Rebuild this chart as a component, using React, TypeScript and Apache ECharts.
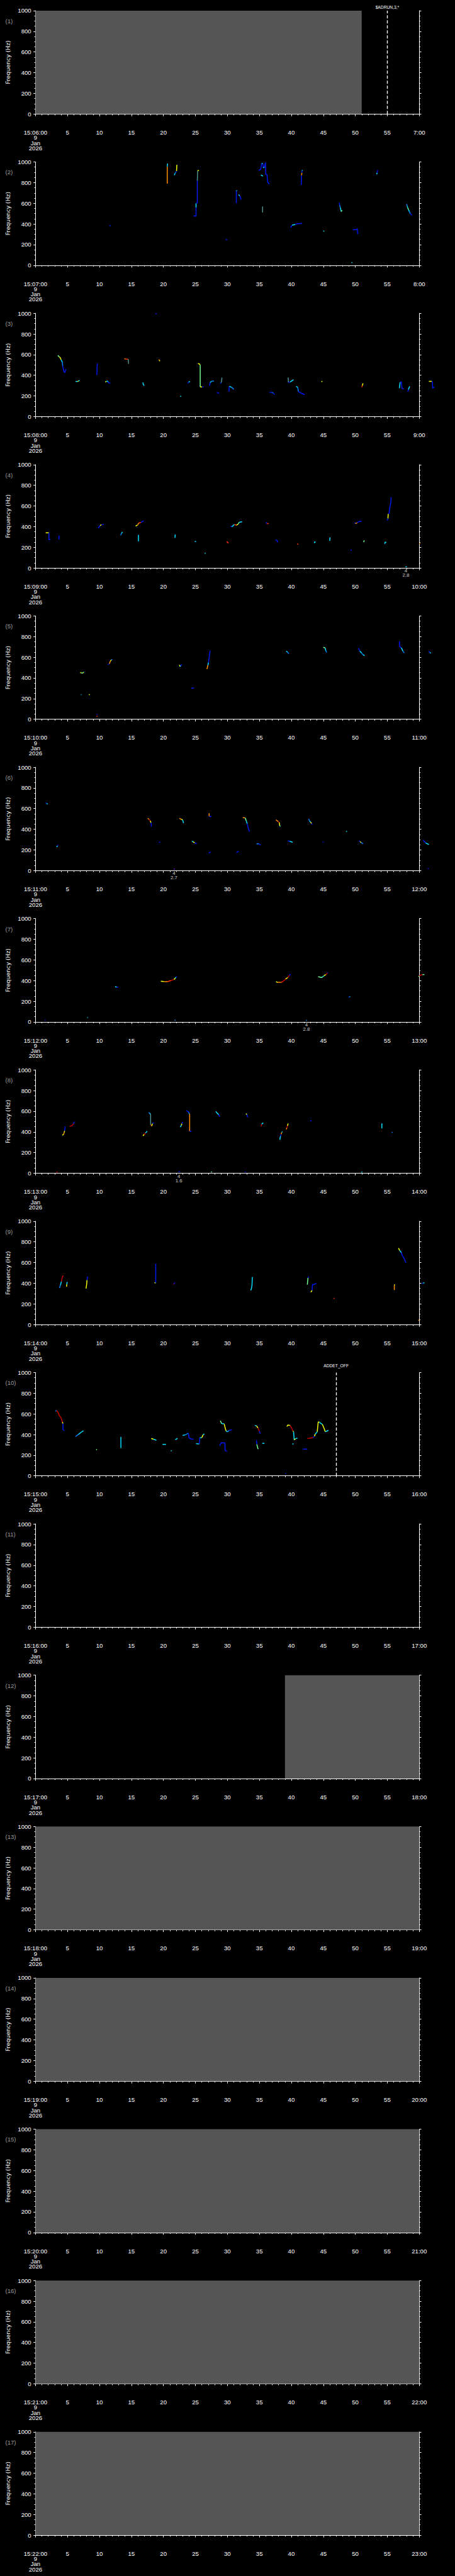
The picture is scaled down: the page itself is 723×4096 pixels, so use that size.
import React, { useEffect, useRef } from "react";
import * as echarts from "echarts";

// ---------- layout constants (reference px, scaled by S) ----------
const S = 0.705;
const PANEL_TOP0 = 24;
const PANEL_STEP = 341.3;
const PANEL_H = 233;
const PLOT_LEFT = 80;
const PLOT_RIGHT = 945;
const REF_W = 1024;

// ---------- axis definitions ----------
const X_MIN = 0;
const X_MAX = 60;
const X_INTERVAL = 5;
const Y_MIN = 0;
const Y_MAX = 1000;
const Y_INTERVAL = 200;
const PANEL_COUNT = 17;
const DATE_LINES = ["9", "Jan", "2026"];

// ---------- colour keys (jet-like intensity scale) ----------
const COLOR_KEYS: Record<string, string> = {
  B: "#0018f0",
  b: "#0080ff",
  c: "#00e0ff",
  g: "#70ff90",
  y: "#f0ff00",
  o: "#ff8c00",
  r: "#ff3000",
  R: "#c80000",
  n: "#4f8f8f",
  p: "#7000c0",
};

// Each trace: [segment colour keys, flat list of t(s), f(Hz) pairs]
type Trace = [string, number[]];

const panel1Traces: Trace[] = [];

const panel2Traces: Trace[] = [
  ["B", [11.55, 385, 11.75, 382]],
  ["oc", [20.6, 790, 20.6, 955, 20.65, 985]],
  ["cbBy", [21.7, 872, 21.8, 888, 21.95, 902, 22.05, 912, 22.1, 972]],
  ["BBcBBny", [24.7, 477, 25.1, 477, 25.1, 560, 25.1, 600, 25.3, 603, 25.3, 820, 25.35, 917, 25.55, 917]],
  ["Bc", [31.4, 600, 31.4, 723, 31.5, 720]],
  ["cB", [31.75, 684, 31.95, 672, 32.15, 636]],
  ["BBBcBcBBBBB", [34.9, 918, 35.2, 928, 35.3, 960, 35.35, 985, 35.55, 985, 35.6, 945, 35.8, 950, 35.95, 995, 36.0, 880, 36.2, 878, 36.3, 805, 36.55, 785]],
  ["c", [35.25, 875, 35.55, 862]],
  ["n", [35.5, 512, 35.5, 568]],
  ["B", [29.75, 252, 29.95, 245]],
  ["BcBB", [39.9, 365, 40.1, 388, 40.6, 394, 40.8, 400, 41.7, 405]],
  ["BoBc", [41.55, 778, 41.6, 870, 41.65, 896, 41.65, 915, 41.75, 920]],
  ["c", [45.0, 332, 45.15, 328]],
  ["Bbcg", [47.5, 606, 47.55, 580, 47.65, 560, 47.8, 520, 47.95, 532]],
  ["BBB", [49.6, 344, 50.1, 344, 50.3, 352, 50.4, 300]],
  ["c", [49.4, 26, 49.55, 26]],
  ["cB", [53.35, 880, 53.4, 895, 53.5, 920]],
  ["bcgcbB", [58.0, 592, 58.1, 575, 58.2, 555, 58.3, 540, 58.45, 520, 58.6, 500, 58.85, 485]],
];

const panel3Traces: Trace[] = [
  ["gyycbBBB", [3.5, 593, 3.7, 578, 3.85, 572, 4.0, 550, 4.2, 527, 4.25, 490, 4.45, 435, 4.6, 428, 4.75, 460]],
  ["cyc", [6.25, 340, 6.6, 340, 6.75, 345, 6.9, 352]],
  ["BB", [9.55, 401, 9.6, 410, 9.65, 514]],
  ["ycbB", [10.9, 335, 11.1, 340, 11.25, 346, 11.4, 330, 11.7, 321]],
  ["orn", [13.9, 562, 14.1, 556, 14.5, 556, 14.55, 511]],
  ["cc", [16.8, 330, 16.85, 310, 17.0, 300]],
  ["B", [18.75, 996, 18.95, 996]],
  ["oy", [19.3, 554, 19.35, 545, 19.45, 537]],
  ["c", [22.65, 200, 22.75, 192]],
  ["Bc", [23.8, 321, 23.95, 335, 24.15, 340]],
  ["yygyB", [25.4, 514, 25.6, 510, 25.75, 500, 25.75, 287, 26.05, 287, 26.3, 285]],
  ["Bcb", [27.2, 298, 27.3, 330, 27.55, 342, 27.9, 345]],
  ["B", [28.35, 235, 28.7, 225]],
  ["Bcn", [28.9, 318, 29.0, 330, 29.05, 330, 29.15, 378]],
  ["Bcb", [30.25, 242, 30.3, 294, 30.7, 282, 31.0, 265]],
  ["BbB", [36.6, 235, 37.0, 235, 37.15, 228, 37.4, 213]],
  ["nBc", [39.5, 378, 39.55, 330, 39.8, 335, 40.35, 358]],
  ["cbBB", [40.75, 292, 41.0, 283, 41.1, 242, 41.5, 228, 42.1, 213]],
  ["y", [44.7, 336, 44.85, 342]],
  ["ry", [51.0, 285, 51.1, 300, 51.2, 322]],
  ["cBBB", [56.9, 275, 57.0, 333, 57.2, 335, 57.3, 272, 57.6, 268]],
  ["Bc", [58.2, 242, 58.3, 262, 58.5, 293]],
  ["yBBB", [61.5, 341, 61.95, 341, 62.05, 338, 62.1, 278, 62.35, 285]],
];

const panel4Traces: Trace[] = [
  ["yBB", [1.6, 340, 2.1, 340, 2.1, 275, 2.35, 275]],
  ["B", [3.65, 275, 3.7, 313]],
  ["BByB", [9.8, 385, 9.9, 395, 10.1, 410, 10.3, 418, 10.7, 421]],
  ["bc", [13.3, 315, 13.45, 335, 13.6, 348]],
  ["yorB", [15.65, 405, 15.95, 415, 16.2, 437, 16.5, 440, 16.9, 456]],
  ["c", [16.1, 257, 16.1, 320]],
  ["c", [21.8, 291, 21.85, 324]],
  ["c", [24.9, 256, 25.1, 256]],
  ["c", [26.45, 141, 26.6, 141]],
  ["r", [29.9, 256, 30.15, 240]],
  ["Bcrygc", [30.5, 405, 30.7, 398, 31.1, 421, 31.4, 413, 31.7, 426, 31.85, 442, 32.3, 448]],
  ["Br", [36.0, 442, 36.2, 430, 36.45, 429]],
  ["BB", [37.5, 272, 37.75, 268, 37.85, 248]],
  ["r", [40.9, 231, 41.1, 231]],
  ["cc", [43.6, 240, 43.65, 251, 43.8, 251]],
  ["c", [46.0, 262, 46.05, 296]],
  ["B", [49.25, 172, 49.45, 172]],
  ["BoBB", [49.9, 440, 50.0, 429, 50.3, 437, 50.6, 450, 51.0, 450]],
  ["g", [51.3, 250, 51.4, 267]],
  ["cc", [54.6, 232, 54.65, 248, 54.85, 248]],
  ["ByBBBB", [55.0, 458, 55.1, 479, 55.15, 523, 55.3, 533, 55.4, 587, 55.55, 636, 55.6, 684]],
  ["c", [57.85, 11, 58.05, 11]],
  ["o", [60.0, 236, 60.15, 236]],
];

const panel5Traces: Trace[] = [
  ["ycyc", [7.0, 453, 7.2, 448, 7.35, 445, 7.5, 455, 7.6, 458]],
  ["c", [7.1, 238, 7.2, 238]],
  ["y", [8.35, 238, 8.5, 238]],
  ["B", [9.55, 47, 9.7, 47]],
  ["r", [9.55, 28, 9.7, 28]],
  ["Boyb", [11.3, 530, 11.55, 536, 11.7, 563, 11.85, 574, 12.0, 580]],
  ["ycB", [22.5, 526, 22.6, 510, 22.7, 518, 22.85, 531]],
  ["B", [24.35, 299, 24.8, 304]],
  ["ocBB", [26.8, 485, 26.95, 523, 27.05, 550, 27.15, 599, 27.3, 663]],
  ["cb", [39.2, 660, 39.4, 650, 39.6, 634]],
  ["gcb", [45.0, 696, 45.3, 690, 45.4, 660, 45.55, 647]],
  ["Bcbc", [50.5, 688, 50.7, 660, 51.0, 640, 51.2, 625, 51.45, 615]],
  ["BBcb", [56.9, 756, 56.95, 701, 57.2, 692, 57.45, 659, 57.65, 642]],
  ["Bc", [61.5, 659, 61.65, 645, 61.8, 640]],
];

const panel6Traces: Trace[] = [
  ["Bc", [1.6, 657, 1.75, 650, 1.9, 643]],
  ["cB", [3.3, 229, 3.45, 238, 3.55, 249]],
  ["oRyBB", [17.55, 507, 17.75, 496, 17.95, 481, 18.05, 463, 18.1, 453, 18.1, 424]],
  ["B", [19.3, 274, 19.5, 274]],
  ["p", [21.6, 14, 21.8, 14]],
  ["oyc", [22.5, 506, 22.8, 496, 23.0, 491, 23.15, 460]],
  ["cyB", [24.45, 286, 24.65, 278, 24.9, 268, 25.2, 260]],
  ["oB", [27.15, 556, 27.15, 524, 27.5, 524]],
  ["B", [27.1, 170, 27.4, 181]],
  ["B", [31.4, 174, 31.75, 186]],
  ["ogcBB", [32.4, 513, 32.8, 510, 32.95, 481, 33.1, 453, 33.3, 403, 33.45, 377]],
  ["bB", [34.55, 259, 34.9, 259, 35.2, 246]],
  ["oRyc", [37.6, 491, 37.95, 474, 38.1, 467, 38.2, 431, 38.3, 427]],
  ["Bc", [39.45, 289, 39.75, 283, 40.2, 274]],
  ["bcyB", [42.7, 500, 42.85, 480, 43.0, 470, 43.15, 457, 43.3, 446]],
  ["B", [44.9, 276, 45.05, 276]],
  ["c", [48.55, 379, 48.7, 379]],
  ["Byb", [50.6, 289, 50.75, 280, 50.9, 272, 51.2, 260]],
  ["Bc", [60.6, 296, 61.0, 267, 61.5, 253]],
  ["B", [61.3, 19, 61.45, 19]],
];

const panel7Traces: Trace[] = [
  ["B", [1.45, 16, 1.6, 16]],
  ["c", [8.1, 42, 8.2, 42]],
  ["cB", [12.45, 342, 12.7, 337, 12.95, 334]],
  ["yorRycB", [19.6, 394, 20.1, 390, 20.7, 390, 21.2, 401, 21.65, 411, 21.85, 423, 21.95, 433, 22.1, 440]],
  ["b", [21.75, 16, 21.9, 16]],
  ["yorRyRB", [37.6, 390, 37.85, 383, 38.4, 383, 38.65, 390, 39.1, 415, 39.45, 430, 39.7, 451, 39.9, 461]],
  ["b", [42.3, 14, 42.45, 14]],
  ["ggcyRB", [44.2, 437, 44.7, 430, 44.95, 437, 45.1, 447, 45.4, 458, 45.65, 473, 45.7, 478]],
  ["Bc", [48.95, 236, 49.1, 243, 49.2, 245]],
  ["gRRg", [59.9, 437, 60.0, 445, 60.3, 454, 60.5, 458, 60.8, 458]],
];

const panel8Traces: Trace[] = [
  ["R", [3.25, 10, 3.45, 10]],
  ["yoyB", [4.2, 367, 4.4, 378, 4.5, 395, 4.55, 410, 4.65, 453]],
  ["RRB", [5.35, 453, 5.7, 460, 5.95, 480, 6.05, 499]],
  ["yRc", [16.8, 363, 17.0, 375, 17.2, 390, 17.45, 406]],
  ["bcnRyB", [17.7, 589, 17.85, 580, 18.0, 571, 18.0, 467, 18.15, 457, 18.3, 481, 18.5, 491]],
  ["B", [22.35, 14, 22.55, 14]],
  ["cyB", [22.65, 446, 22.8, 465, 22.9, 480, 23.0, 496]],
  ["BbboB", [23.6, 606, 23.95, 591, 24.05, 574, 24.1, 574, 24.1, 406, 24.4, 406]],
  ["g", [27.45, 12, 27.6, 12]],
  ["ccB", [28.2, 599, 28.4, 581, 28.65, 567, 28.8, 546]],
  ["B", [32.75, 11, 32.9, 11]],
  ["yB", [32.9, 577, 33.05, 567, 33.2, 541]],
  ["Rc", [35.25, 453, 35.35, 474, 35.6, 489]],
  ["cBoc", [38.2, 324, 38.3, 360, 38.4, 378, 38.5, 395, 38.6, 403]],
  ["oRy", [39.2, 424, 39.3, 440, 39.4, 460, 39.5, 481]],
  ["B", [42.95, 510, 43.15, 506]],
  ["c", [50.95, 10, 51.1, 10]],
  ["cc", [54.15, 434, 54.15, 477, 54.25, 477]],
  ["b", [55.7, 396, 55.85, 396]],
];

const panel9Traces: Trace[] = [
  ["bcRR", [3.75, 353, 3.9, 381, 4.05, 417, 4.2, 460, 4.35, 474]],
  ["yc", [4.85, 367, 4.9, 390, 4.95, 413]],
  ["yyB", [7.9, 349, 8.0, 389, 8.05, 431, 8.15, 464]],
  ["yB", [18.6, 406, 18.8, 403, 18.8, 589]],
  ["RB", [21.55, 389, 21.65, 395, 21.8, 406]],
  ["ccc", [33.65, 331, 33.75, 346, 33.85, 381, 33.9, 460]],
  ["gB", [42.5, 386, 42.6, 453, 42.75, 464]],
  ["yBBB", [43.05, 314, 43.25, 331, 43.3, 386, 43.6, 389, 43.9, 400]],
  ["r", [46.6, 253, 46.75, 253]],
  ["oy", [56.1, 334, 56.1, 380, 56.15, 389]],
  ["ycBBBB", [56.75, 739, 56.95, 717, 57.2, 696, 57.35, 667, 57.55, 649, 57.8, 617, 57.9, 599]],
  ["Bc", [60.45, 396, 60.6, 403, 60.8, 403]],
  ["o", [59.85, 41, 60.0, 41]],
];

const panel10Traces: Trace[] = [
  ["bRRRRyBB", [3.1, 627, 3.3, 632, 3.55, 613, 3.75, 580, 4.0, 563, 4.2, 520, 4.3, 506, 4.3, 448, 4.5, 438]],
  ["bcc", [6.25, 381, 6.7, 401, 7.15, 423, 7.5, 438]],
  ["g", [9.5, 252, 9.6, 258]],
  ["c", [13.35, 377, 13.35, 269]],
  ["yc", [18.1, 362, 18.45, 355, 18.9, 345]],
  ["c", [19.85, 305, 20.4, 305]],
  ["c", [21.15, 244, 21.3, 244]],
  ["c", [21.85, 351, 22.2, 362]],
  ["cbBBB", [23.0, 391, 23.45, 398, 23.9, 413, 24.0, 370, 24.3, 358, 24.7, 355]],
  ["cBcyc", [25.1, 312, 25.6, 309, 25.7, 370, 26.0, 370, 26.2, 398, 26.4, 408]],
  ["gcyycbB", [28.9, 534, 29.1, 506, 29.5, 503, 29.6, 477, 29.8, 434, 30.05, 427, 30.3, 441, 30.7, 446]],
  ["BBBB", [28.8, 291, 29.0, 319, 29.6, 319, 29.65, 245, 29.95, 238]],
  ["cyRB", [34.3, 489, 34.55, 484, 34.8, 463, 35.0, 434, 35.15, 408]],
  ["Bg", [34.55, 344, 34.6, 305, 34.8, 259]],
  ["c", [35.45, 315, 35.8, 315]],
  ["yyRRycyc", [39.3, 477, 39.45, 491, 39.8, 489, 40.05, 463, 40.25, 434, 40.35, 427, 40.45, 348, 40.65, 360, 40.95, 365]],
  ["c", [40.15, 309, 40.35, 309]],
  ["B", [39.05, 19, 39.2, 19]],
  ["B", [41.8, 259, 42.5, 259]],
  ["RRBycyyccyycc", [42.5, 362, 42.95, 365, 43.4, 371, 43.6, 384, 43.75, 405, 44.05, 427, 44.2, 520, 44.4, 520, 44.55, 510, 44.85, 499, 45.1, 463, 45.3, 427, 45.55, 434, 45.8, 441]],
];

const panelTraces: Trace[][] = [
  panel1Traces, panel2Traces, panel3Traces, panel4Traces, panel5Traces,
  panel6Traces, panel7Traces, panel8Traces, panel9Traces, panel10Traces,
  [], [], [], [], [], [], [],
];

// grey "no data" spans: [panel number, start s, end s]
const greySpans: [number, number, number][] = [
  [1, 0, 51],
  [12, 39, 60],
  [13, 0, 60],
  [14, 0, 60],
  [15, 0, 60],
  [16, 0, 60],
  [17, 0, 60],
];

// event markers: [panel number, time s, label]
const eventMarks: [number, number, string][] = [
  [1, 55, "$ADRUN,3,*"],
  [10, 47, "ADDET_OFF"],
];

// small annotations under the plot: [panel number, time s, text]
const annotations: [number, number, string][] = [
  [4, 57.9, "4\n2.8"],
  [6, 21.65, "4\n2.7"],
  [7, 42.35, "4\n2.8"],
  [8, 22.4, "4\n1.6"],
];

const FONT = "'Liberation Sans', Arial, sans-serif";

function buildPieces(traces: Trace[]) {
  const out: any[] = [];
  traces.forEach(([keys, pts]) => {
    const n = pts.length / 2;
    let cur: number[][] = [[pts[0], pts[1]]];
    let curKey = keys[0];
    for (let i = 0; i < n - 1; i++) {
      const k = keys[Math.min(i, keys.length - 1)];
      const p2 = [pts[2 * i + 2], pts[2 * i + 3]];
      if (k !== curKey) {
        out.push({ coords: cur, lineStyle: { color: COLOR_KEYS[curKey] } });
        cur = [[pts[2 * i], pts[2 * i + 1]]];
        curKey = k;
      }
      cur.push(p2);
    }
    out.push({ coords: cur, lineStyle: { color: COLOR_KEYS[curKey] } });
  });
  return out;
}

function buildOption() {
  const grids: any[] = [];
  const xAxes: any[] = [];
  const yAxes: any[] = [];
  const series: any[] = [];
  const graphic: any[] = [];

  for (let k = 0; k < PANEL_COUNT; k++) {
    const topRef = PANEL_TOP0 + PANEL_STEP * k;
    grids.push({
      left: PLOT_LEFT * S,
      width: (PLOT_RIGHT - PLOT_LEFT) * S,
      top: topRef * S,
      height: PANEL_H * S,
      containLabel: false,
    });
    const startLabel =
      "15:" + String(6 + k).padStart(2, "0") + ":00\n" + DATE_LINES.join("\n");
    const endLabel = `${7 + k}:00`;
    xAxes.push({
      gridIndex: k,
      type: "value",
      min: X_MIN,
      max: X_MAX,
      interval: X_INTERVAL,
      position: "bottom",
      offset: 23.5 * S,
      axisLine: { show: true, lineStyle: { color: "#fff", width: 1 } },
      axisTick: { show: true, length: 5 * S, lineStyle: { color: "#fff", width: 1 } },
      minorTick: { show: true, splitNumber: 5, length: 3 * S, lineStyle: { color: "#fff", width: 1 } },
      splitLine: { show: false },
      axisLabel: {
        show: true,
        interval: 0,
        color: "#fff",
        fontFamily: FONT,
        fontSize: 9.6,
        lineHeight: 8.3,
        margin: 8.5,
        showMinLabel: true,
        showMaxLabel: true,
        formatter: (v: number) =>
          v === X_MIN ? startLabel : v === X_MAX ? endLabel : String(v),
      },
    });
    yAxes.push({
      gridIndex: k,
      type: "value",
      position: "left",
      min: Y_MIN,
      max: Y_MAX,
      interval: Y_INTERVAL,
      name: "Frequency (Hz)",
      nameLocation: "middle",
      nameGap: 35,
      nameTextStyle: { color: "#fff", fontFamily: "'DejaVu Sans', sans-serif", fontSize: 9.2 },
      axisLine: { show: true, lineStyle: { color: "#fff", width: 1 } },
      axisTick: { show: true, length: 4.6 * S, lineStyle: { color: "#fff", width: 1 } },
      minorTick: { show: true, splitNumber: 4, length: 2.6 * S, lineStyle: { color: "#fff", width: 1 } },
      splitLine: { show: false },
      axisLabel: {
        color: "#fff",
        fontFamily: FONT,
        fontSize: 9.6,
        margin: 6.7,
        formatter: (v: number) => String(v),
      },
    });
    yAxes.push({
      gridIndex: k,
      type: "value",
      position: "right",
      min: Y_MIN,
      max: Y_MAX,
      interval: Y_INTERVAL,
      axisLine: { show: true, lineStyle: { color: "#fff", width: 1 } },
      axisTick: { show: true, length: 4.6 * S, lineStyle: { color: "#fff", width: 1 } },
      minorTick: { show: true, splitNumber: 4, length: 2.6 * S, lineStyle: { color: "#fff", width: 1 } },
      splitLine: { show: false },
      axisLabel: { show: false },
    });

    const panelNo = k + 1;
    const spans = greySpans.filter((g) => g[0] === panelNo);
    const events = eventMarks.filter((e) => e[0] === panelNo);
    const notes = annotations.filter((a) => a[0] === panelNo);

    // marker / annotation series (grey spans, event lines, text notes)
    series.push({
      type: "scatter",
      xAxisIndex: k,
      yAxisIndex: 2 * k,
      symbolSize: 0,
      silent: true,
      clip: false,
      z: 1,
      data: notes.map((a) => [a[1], 0, a[2]]),
      label: {
        show: true,
        position: "bottom",
        distance: 1,
        color: "#fff",
        fontFamily: FONT,
        fontSize: 7.8,
        lineHeight: 7,
        align: "center",
        formatter: (p: any) => p.value[2],
      },
      markArea: spans.length
        ? {
            silent: true,
            itemStyle: { color: "#555555", opacity: 1 },
            data: spans.map((g) => [
              { coord: [g[1], Y_MIN] },
              { coord: [g[2], Y_MAX] },
            ]),
          }
        : undefined,
      markLine: events.length
        ? {
            silent: true,
            symbol: ["none", "none"],
            lineStyle: { color: "#fff", type: [5, 3], width: 1.4 },
            label: {
              show: true,
              position: "end",
              distance: panelNo === 1 ? 2 : 7,
              color: "#fff",
              fontFamily: FONT,
              fontSize: 6.7,
              formatter: (p: any) => p.name,
            },
            data: events.map((e) => ({ xAxis: e[1], name: e[2] })),
          }
        : undefined,
    });

    // spectral traces
    series.push({
      type: "lines",
      coordinateSystem: "cartesian2d",
      xAxisIndex: k,
      yAxisIndex: 2 * k,
      polyline: true,
      clip: false,
      silent: true,
      z: 3,
      lineStyle: { width: 1.5, opacity: 1 },
      data: buildPieces(panelTraces[k]),
    });

    // panel number
    graphic.push({
      type: "text",
      left: 12 * S,
      top: (topRef + 24) * S - 5.5,
      silent: true,
      style: {
        text: `(${panelNo})`,
        fill: "#9a9a9a",
        font: `9.6px ${FONT}`,
      },
    });
  }

  return {
    backgroundColor: "#000",
    animation: false,
    grid: grids,
    xAxis: xAxes,
    yAxis: yAxes,
    series,
    graphic,
  };
}

export default function App() {
  const ref = useRef<HTMLDivElement>(null);
  useEffect(() => {
    document.body.style.margin = "0";
    document.body.style.background = "#000";
    if (!ref.current) return;
    const chart = echarts.init(ref.current, undefined, { renderer: "svg" });
    chart.setOption(buildOption() as any);
    return () => chart.dispose();
  }, []);
  return (
    <div
      ref={ref}
      style={{ position: "absolute", left: 0, top: 0, width: Math.round(REF_W * S), height: 4096, background: "#000" }}
    />
  );
}
